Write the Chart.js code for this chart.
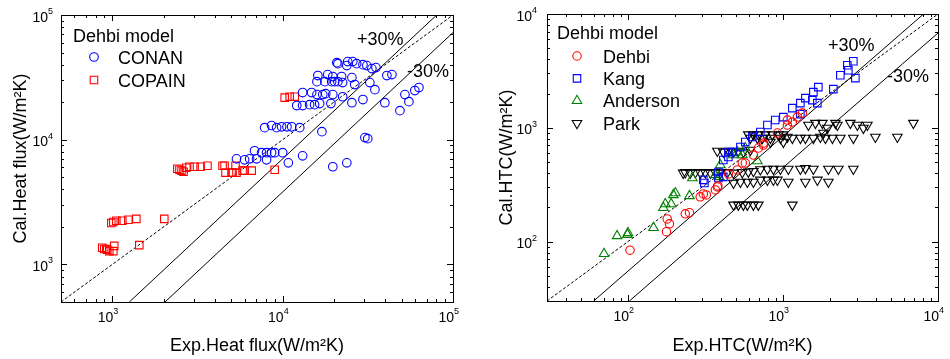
<!DOCTYPE html>
<html>
<head>
<meta charset="utf-8">
<script src="https://cdn.jsdelivr.net/npm/chart.js@4.4.1/dist/chart.umd.min.js"></script>
<style>
body { margin: 0; background: #fff; }
#wrap { position: relative; width: 950px; height: 359px; }
#left { position: absolute; left: 0; top: 0; }
#right { position: absolute; left: 480px; top: 0; }
</style>
</head>
<body>
<div id="wrap">
<canvas id="left" width="480" height="359"></canvas>
<canvas id="right" width="470" height="359"></canvas>
</div>
<script>
// Left chart data : heat flux //
var conanX = [20800,21100,24100,25800,23800,27200,29600,31200,33400,35300,
    16100,18400,19700,22200,15900,17700,19400,20200,21100,22500,25500,26500,32500,40900,43800,
    13100,14800,15900,17200,17900,19700,22500,34800,
    12100,13100,14400,15400,16500,19200,25500,29600,39800,52200,59700,63100,55100,48800,
    7840,8610,9220,9860,10600,11300,12600,17000,30400,31600,
    6840,7520,8050,8610,8980,10000,5360,5980,6400,7030,8050,13100,10800,19700,23800];
var conanY = [41500,40700,42300,42300,39300,40700,40000,39300,37200,37900,
    32700,33300,32100,32100,29200,29200,29200,29200,29200,28700,31500,27700,28700,32700,33300,
    23900,23900,23000,23000,23400,23000,22100,25200,
    18800,18800,19100,19100,19500,19500,19800,21000,19800,23000,24800,26200,20200,17100,
    12500,13000,12500,12700,12700,12700,12500,11600,10400,10200,
    8160,7870,7870,7870,7870,7870,7030,6900,7030,7030,6900,7430,6530,6070,6530];
var copainX = [873,897,922,935,960,1014,1027,1441,
    987,1014,1056,1145,1242,1384,2020,
    2410,2480,2550,2620,2720,2840,3040,3300,3620,
    4440,4560,5290,4620,5010,5080,5360,5820,5980,6580,8980,
    10280,11000,11780];
var copainY = [1360,1330,1330,1310,1280,1280,1410,1430,
    2150,2190,2240,2240,2280,2320,2320,
    5850,5750,5650,5540,5960,6070,6070,6070,6180,
    6180,6180,6180,5450,5450,5450,5450,5650,5650,5650,5750,
    21740,22140,22140];

// Right chart data : HTC //
var dehbiX = [103,177,185,179,234,249,292,306,320,366,377,380,444,507,546,571,644,694,748,748,921,1067,1067,1149,1238,1334];
var dehbiY = [84,122,143,158,175,179,247,262,257,284,302,308,393,426,490,490,575,664,705,734,899,1057,1169,1122,1241,1346];
var kangX = [2843,2600,2640,2344,2930,2112,1690,1570,1394,1546,1294,1665,1148,1294,1005,891,793,714,634,571,531,471,444,412,444,383,412,306,311,383];
var kangY = [3846,3548,3206,2898,2729,2185,2275,2057,1823,1750,1648,1648,1489,1319,1241,1169,1057,917,829,749,677,612,612,521,553,409,370,348,327,362];
var andersonX = [70,85,99,100,146,169,174,190,196,202,249,260,366,394,478,507,546,571,683,388];
var andersonY = [78,112,115,119,132,198,214,214,257,267,252,362,385,471,576,612,576,664,511,370];
var parkX = [1459,1618,1795,1933,2178,2244,2718,3019,3299,3502,6934,1823,
    615,683,736,829,962,1067,1149,1294,1394,1570,1742,1877,2083,2344,2843,3945,5470,829,1005,
    597,644,693,769,854,934,1005,
    377,412,444,479,515,555,615,
    227,234,252,272,293,315,340,366,394,437,479,546,597,644,714,793,867,962,1082,1294,1394,1570,1963,2276,2843,
    479,531,589,644,714,793,867,920,1082,1394,1667,1963,
    479,515,555,589,644,693,1149];
var parkY = [1057,1099,1099,994,1099,1057,1099,1057,994,1057,1099,899,
    812,812,812,812,812,829,812,812,812,812,829,812,812,812,812,829,829,749,749,
    870,870,870,870,870,870,870,
    625,612,625,612,625,612,637,
    401,405,401,405,401,405,401,405,401,405,401,405,410,415,430,434,434,434,434,434,440,434,434,434,434,
    327,334,334,334,348,348,348,348,334,334,348,334,
    210,210,210,210,210,210,210];

// Reference lines (1:1 dashed, +30% / -30% solid) //
var leftDashX = [500, 100000],  leftDashY = [500, 100000];
var leftUpX = [1259, 80200],    leftUpY = [500, 100000];
var leftLowX = [2040, 100000],  leftLowY = [500, 72300];
var rightDashX = [30, 10000],   rightDashY = [30, 10000];
var rightUpX = [60, 8070],      rightUpY = [30, 10000];
var rightLowX = [102, 10000],   rightLowY = [30, 6800];

// Tick labels //
var leftXTicks = [1000, 10000, 100000], leftXExp = ['3', '4', '5'];
var leftYTicks = [1000, 10000, 100000], leftYExp = ['3', '4', '5'];
var rightXTicks = [100, 1000, 10000],   rightXExp = ['2', '3', '4'];
var rightYTicks = [100, 1000, 10000],   rightYExp = ['2', '3', '4'];

var fam = '"Liberation Sans", Arial, sans-serif';
Chart.defaults.font.family = fam;
Chart.defaults.color = '#000';

function pts(xs, ys) {
    return xs.map(function(x, i) { return {x: x, y: ys[i]}; });
}

function marks(xs, ys, style, r, color, rot) {
    return {
        data: pts(xs, ys), showLine: false,
        pointStyle: style, pointRadius: r, pointRotation: rot || 0,
        pointBorderColor: color, pointBackgroundColor: 'rgba(0,0,0,0)', pointBorderWidth: 1.1
    };
}

function refLine(xs, ys, dashed) {
    return {
        data: pts(xs, ys), showLine: true, pointRadius: 0,
        borderColor: '#000', borderWidth: 1, borderDash: dashed ? [3, 2] : []
    };
}

// frame, inward ticks, 10^n labels, legend and notes //
var decoPlugin = {
    id: 'deco',
    afterDatasetsDraw: function(chart, args, d) {
        var ctx = chart.ctx, a = chart.chartArea;
        var xs = chart.scales.x, ys = chart.scales.y;
        ctx.save();
        ctx.strokeStyle = '#000';
        ctx.lineWidth = 1;
        ctx.setLineDash([]);
        ctx.strokeRect(Math.round(a.left) + 0.5, Math.round(a.top) + 0.5,
            Math.round(a.right - a.left), Math.round(a.bottom - a.top));

        ctx.beginPath();
        for (var e = Math.floor(Math.log10(xs.min)); e <= Math.log10(xs.max); e++) {
            for (var m = 1; m <= 9; m++) {
                var v = m * Math.pow(10, e);
                if (v <= xs.min * 1.001 || v >= xs.max * 0.999) continue;
                var p = Math.round(xs.getPixelForValue(v)) + 0.5;
                var len = m == 1 ? 6 : 3;
                ctx.moveTo(p, a.bottom); ctx.lineTo(p, a.bottom - len);
                ctx.moveTo(p, a.top); ctx.lineTo(p, a.top + len);
            }
        }
        for (var e2 = Math.floor(Math.log10(ys.min)); e2 <= Math.log10(ys.max); e2++) {
            for (var m2 = 1; m2 <= 9; m2++) {
                var v2 = m2 * Math.pow(10, e2);
                if (v2 <= ys.min * 1.001 || v2 >= ys.max * 0.999) continue;
                var q = Math.round(ys.getPixelForValue(v2)) + 0.5;
                var len2 = m2 == 1 ? 6 : 3;
                ctx.moveTo(a.left, q); ctx.lineTo(a.left + len2, q);
                ctx.moveTo(a.right, q); ctx.lineTo(a.right - len2, q);
            }
        }
        ctx.stroke();

        ctx.fillStyle = '#000';
        ctx.textBaseline = 'alphabetic';
        d.xTicks.forEach(function(v, i) {
            var px = xs.getPixelForValue(v) + 1;
            ctx.font = '14px ' + fam; ctx.textAlign = 'right';
            ctx.fillText('10', px, a.bottom + 20);
            ctx.font = '9px ' + fam; ctx.textAlign = 'left';
            ctx.fillText(d.xExp[i], px, a.bottom + 11.5);
        });
        d.yTicks.forEach(function(v, i) {
            var py = ys.getPixelForValue(v);
            ctx.font = '14px ' + fam; ctx.textAlign = 'right';
            ctx.fillText('10', a.left - d.yGap, py + 6.5);
            ctx.font = '9px ' + fam; ctx.textAlign = 'left';
            ctx.fillText(d.yExp[i], a.left - d.yGap, py - 1);
        });

        // legend //
        var L = d.legend;
        ctx.font = '18px ' + fam; ctx.textAlign = 'left';
        ctx.fillText(L.title, L.titleX, L.titleY);
        L.items.forEach(function(it, i) {
            var y = L.rowY + i * L.step;
            ctx.strokeStyle = it.color;
            ctx.fillStyle = 'rgba(0,0,0,0)';
            ctx.lineWidth = 1.1;
            Chart.helpers.drawPoint(ctx, {pointStyle: it.style, radius: it.r, rotation: it.rot || 0, borderWidth: 1.1}, L.markX, y);
            ctx.fillStyle = '#000';
            ctx.fillText(it.label, L.textX, y + 6.5);
        });

        d.notes.forEach(function(n) {
            ctx.fillText(n.text, n.x, n.y);
        });
        ctx.restore();
    }
};

function buildChart(id, c) {
    return new Chart(document.getElementById(id).getContext('2d'), {
        type: 'scatter',
        data: { datasets: c.datasets },
        options: {
            responsive: false,
            animation: false,
            events: [],
            layout: { padding: c.padding },
            plugins: { legend: { display: false }, tooltip: { enabled: false }, deco: c.deco },
            scales: {
                x: {
                    type: 'logarithmic', min: c.xMin, max: c.xMax,
                    ticks: { display: false }, grid: { display: false }, border: { display: false },
                    title: { display: true, text: c.xTitle, font: { size: 18 }, padding: { top: 0, bottom: 2 } },
                    afterFit: function(s) { s.height = c.xAxisH; }
                },
                y: {
                    type: 'logarithmic', min: c.yMin, max: c.yMax,
                    ticks: { display: false }, grid: { display: false }, border: { display: false },
                    title: { display: true, text: c.yTitle, font: { size: 18 }, padding: { top: c.yTitlePad, bottom: 0 } },
                    afterFit: function(s) { s.width = c.yAxisW; }
                }
            }
        },
        plugins: [decoPlugin]
    });
}

buildChart('left', {
    datasets: [
        marks(conanX, conanY, 'circle', 4.3, '#0000ff'),
        marks(copainX, copainY, 'rect', 5.3, '#ff0000'),
        refLine(leftDashX, leftDashY, true),
        refLine(leftUpX, leftUpY, false),
        refLine(leftLowX, leftLowY, false)
    ],
    xMin: 500, xMax: 100000, yMin: 500, yMax: 100000,
    xTitle: 'Exp.Heat flux(W/m\u00b2K)', yTitle: 'Cal.Heat flux(W/m\u00b2K)',
    padding: { top: 15, right: 27, bottom: 0, left: 0 },
    xAxisH: 57, yAxisW: 61, yTitlePad: 10,
    deco: {
        xTicks: leftXTicks, xExp: leftXExp, yTicks: leftYTicks, yExp: leftYExp, yGap: 13,
        legend: {
            title: 'Dehbi model', titleX: 73, titleY: 42, markX: 94, textX: 118, rowY: 57, step: 23,
            items: [
                { label: 'CONAN', style: 'circle', r: 4.3, color: '#0000ff' },
                { label: 'COPAIN', style: 'rect', r: 5.3, color: '#ff0000' }
            ]
        },
        notes: [ { text: '+30%', x: 357, y: 45 }, { text: '-30%', x: 407, y: 77 } ]
    }
});

buildChart('right', {
    datasets: [
        marks(dehbiX, dehbiY, 'circle', 4.2, '#ff0000'),
        marks(kangX, kangY, 'rect', 5.3, '#0000ff'),
        marks(andersonX, andersonY, 'triangle', 5.5, '#008000'),
        marks(parkX, parkY, 'triangle', 5.5, '#000000', 180),
        refLine(rightDashX, rightDashY, true),
        refLine(rightUpX, rightUpY, false),
        refLine(rightLowX, rightLowY, false)
    ],
    xMin: 30, xMax: 10000, yMin: 30, yMax: 10000,
    xTitle: 'Exp.HTC(W/m\u00b2K)', yTitle: 'Cal.HTC(W/m\u00b2K)',
    padding: { top: 14, right: 12, bottom: 0, left: 0 },
    xAxisH: 58, yAxisW: 67, yTitlePad: 16,
    deco: {
        xTicks: rightXTicks, xExp: rightXExp, yTicks: rightYTicks, yExp: rightYExp, yGap: 15,
        legend: {
            title: 'Dehbi model', titleX: 77, titleY: 39, markX: 97, textX: 123, rowY: 56, step: 22.4,
            items: [
                { label: 'Dehbi', style: 'circle', r: 4.2, color: '#ff0000' },
                { label: 'Kang', style: 'rect', r: 5.3, color: '#0000ff' },
                { label: 'Anderson', style: 'triangle', r: 5.5, color: '#008000' },
                { label: 'Park', style: 'triangle', r: 5.5, color: '#000000', rot: 180 }
            ]
        },
        notes: [ { text: '+30%', x: 348, y: 51 }, { text: '-30%', x: 407, y: 82 } ]
    }
});
</script>
</body>
</html>
